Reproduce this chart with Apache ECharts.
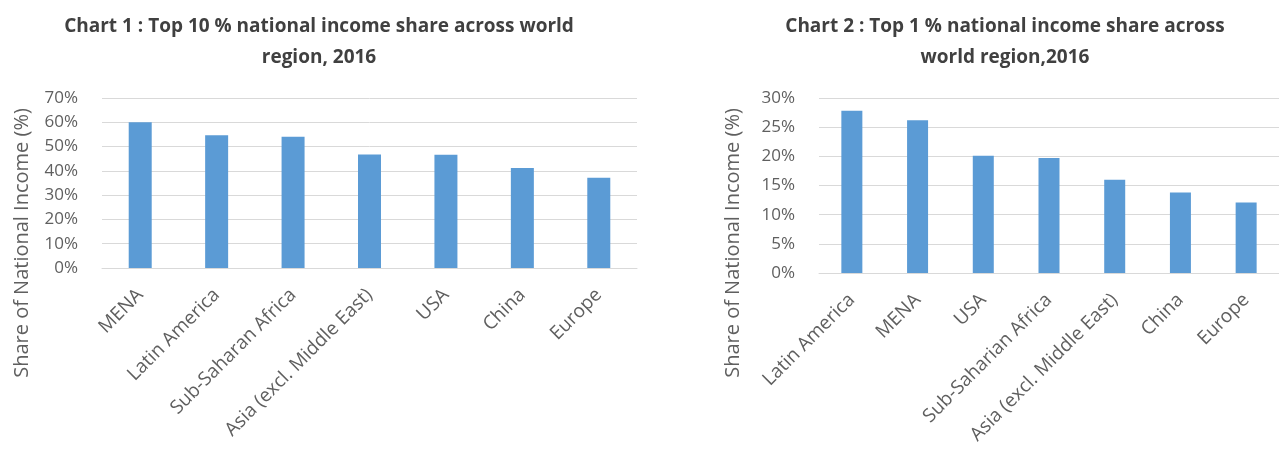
<!DOCTYPE html>
<html>
<head>
<meta charset="utf-8">
<script src="https://cdn.jsdelivr.net/npm/echarts@6/dist/echarts.min.js"></script>
<style>
  html, body { margin: 0; padding: 0; background: #fff; }
  #main { width: 1279px; height: 450px; }
</style>
</head>
<body>
<div id="main"></div>
<script>
// chart 1: top 10 % share
const regions1 = ['MENA', 'Latin America', 'Sub-Saharan Africa', 'Asia (excl. Middle East)', 'USA', 'China', 'Europe']
const top10Share = [60, 54.7, 54, 46.7, 46.6, 41.2, 37.2]
// chart 2: top 1 % share
const regions2 = ['Latin America', 'MENA', 'USA', 'Sub-Saharian Africa', 'Asia (excl. Middle East)', 'China', 'Europe']
const top1Share = [27.8, 26.2, 20.1, 19.7, 16.0, 13.8, 12.1]

const title1 = 'Chart 1 : Top 10 % national income share across world\nregion, 2016'
const title2 = 'Chart 2 : Top 1 % national income share across\nworld region,2016'
const yName = 'Share of National Income (%)'

const FONT = '"Open Sans", sans-serif'
const GRAY = '#5f5f5f'
const GRID_LINE = '#d9d9d9'
const BLUE = '#5b9bd5'

const chart = echarts.init(document.getElementById('main'))

function yAxisFor(gridIndex, max, interval) {
  return {
    type: 'value',
    gridIndex,
    min: 0,
    max,
    interval,
    axisLine: { show: false },
    axisTick: { show: false },
    axisLabel: { color: GRAY, fontFamily: FONT, fontSize: 17, margin: 24, formatter: v => v + '%' },
    splitLine: { lineStyle: { color: GRID_LINE, width: 1 } }
  }
}

function xAxisFor(gridIndex, data) {
  return {
    type: 'category',
    gridIndex,
    data,
    axisLine: { lineStyle: { color: GRID_LINE, width: 1 } },
    axisTick: { show: false },
    axisLabel: { color: GRAY, fontFamily: FONT, fontSize: 19, rotate: 45, interval: 0, margin: 24 }
  }
}

const titleStyle = { fontFamily: FONT, fontSize: 19, fontWeight: 'bold', color: '#404040', lineHeight: 31 }

chart.setOption({
  animation: false,
  title: [
    { text: title1, left: 314, top: 6, textAlign: 'center', textStyle: titleStyle },
    { text: title2, left: 1000, top: 6, textAlign: 'center', textStyle: titleStyle }
  ],
  graphic: [
    {
      type: 'text', x: 22, y: 243, rotation: Math.PI / 2,
      style: { text: yName, fill: GRAY, font: '20px ' + FONT, textAlign: 'center', textVerticalAlign: 'middle' }
    },
    {
      type: 'text', x: 733, y: 243, rotation: Math.PI / 2,
      style: { text: yName, fill: GRAY, font: '20px ' + FONT, textAlign: 'center', textVerticalAlign: 'middle' }
    }
  ],
  grid: [
    { left: 102, right: 642, top: 98, bottom: 182 },
    { left: 819, right: -16, top: 98, bottom: 177 }
  ],
  xAxis: [xAxisFor(0, regions1), xAxisFor(1, regions2)],
  yAxis: [yAxisFor(0, 70, 10), yAxisFor(1, 30, 5)],
  series: [
    { type: 'bar', xAxisIndex: 0, yAxisIndex: 0, data: top10Share, barWidth: 23, itemStyle: { color: BLUE } },
    { type: 'bar', xAxisIndex: 1, yAxisIndex: 1, data: top1Share, barWidth: 21, itemStyle: { color: BLUE } }
  ]
})
</script>
</body>
</html>
